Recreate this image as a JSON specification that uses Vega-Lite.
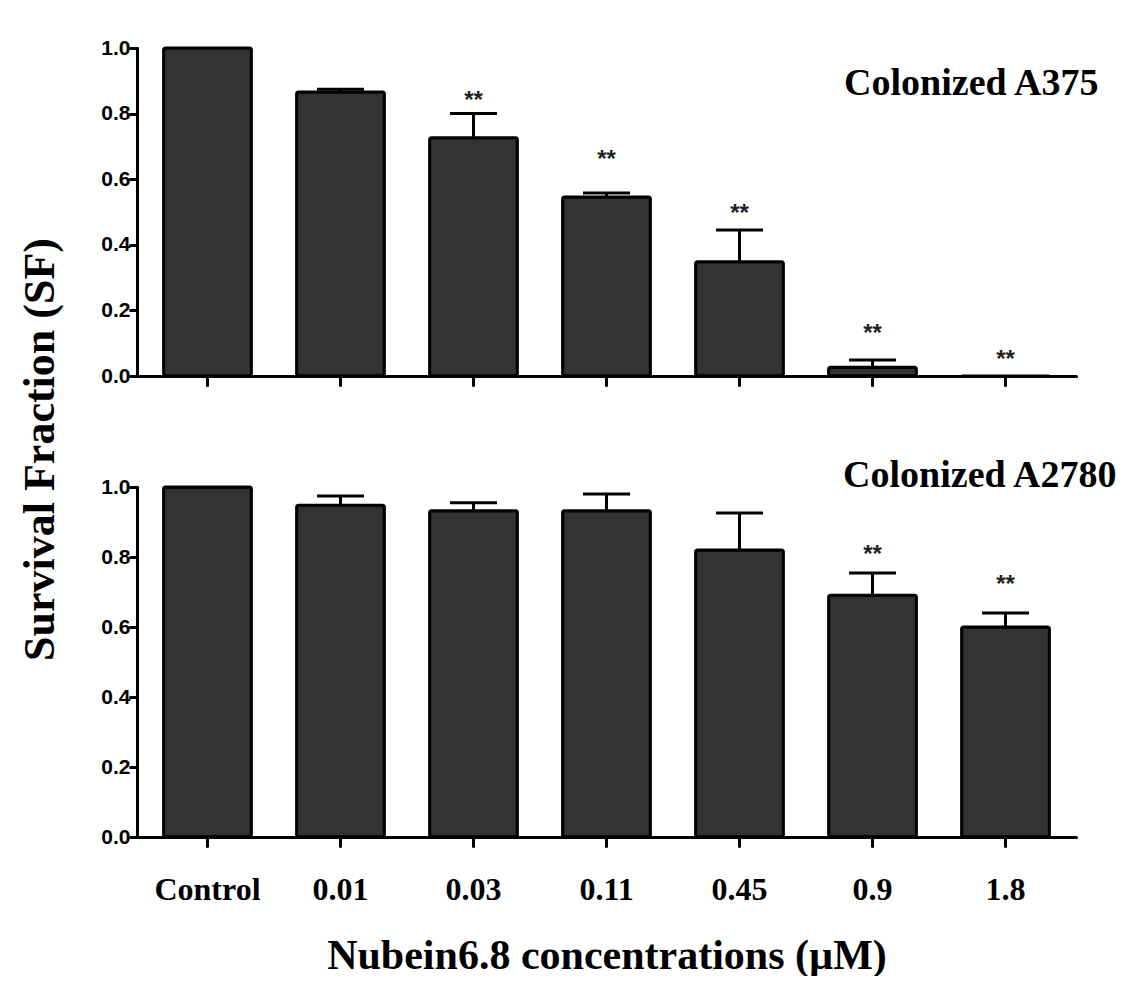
{
  "$schema": "https://vega.github.io/schema/vega-lite/v6.json",
  "background": "white",
  "padding": {"left": 17, "top": 37, "right": 0, "bottom": 0},
  "bounds": "flush",
  "spacing": 111,
  "datasets": {
    "sf": [
      {"panel": "A375", "conc": "Control", "sf": 1.0, "hi": null, "star": null},
      {"panel": "A375", "conc": "0.01", "sf": 0.866, "hi": 0.874, "star": null},
      {"panel": "A375", "conc": "0.03", "sf": 0.726, "hi": 0.80, "star": 0.86},
      {"panel": "A375", "conc": "0.11", "sf": 0.546, "hi": 0.558, "star": 0.68},
      {"panel": "A375", "conc": "0.45", "sf": 0.348, "hi": 0.445, "star": 0.515},
      {"panel": "A375", "conc": "0.9", "sf": 0.027, "hi": 0.049, "star": 0.149},
      {"panel": "A375", "conc": "1.8", "sf": 0.0, "hi": null, "star": 0.07},
      {"panel": "A2780", "conc": "Control", "sf": 1.0, "hi": null, "star": null},
      {"panel": "A2780", "conc": "0.01", "sf": 0.948, "hi": 0.974, "star": null},
      {"panel": "A2780", "conc": "0.03", "sf": 0.932, "hi": 0.955, "star": null},
      {"panel": "A2780", "conc": "0.11", "sf": 0.932, "hi": 0.98, "star": null},
      {"panel": "A2780", "conc": "0.45", "sf": 0.82, "hi": 0.926, "star": null},
      {"panel": "A2780", "conc": "0.9", "sf": 0.691, "hi": 0.754, "star": 0.826},
      {"panel": "A2780", "conc": "1.8", "sf": 0.60, "hi": 0.64, "star": 0.74}
    ]
  },
  "config": {
    "view": {"stroke": null},
    "axis": {
      "domainWidth": 3, "domainColor": "black", "domainCap": "round",
      "tickWidth": 3, "tickColor": "black", "tickCap": "round",
      "grid": false, "labelColor": "black", "titleColor": "black"
    },
    "axisY": {
      "labelFont": "Liberation Sans", "labelFontWeight": "bold", "labelFontSize": 21,
      "labelPadding": 0, "tickSize": 7
    },
    "axisX": {
      "tickSize": 9, "labelAngle": 0,
      "labelFont": "Liberation Serif", "labelFontWeight": "bold", "labelFontSize": 32,
      "labelPadding": 28
    }
  },
  "vconcat": [
    {
      "width": 939,
      "height": 328,
      "data": {"name": "sf"},
      "transform": [{"filter": "datum.panel == 'A375'"}],
      "encoding": {
        "x": {
          "field": "conc", "type": "nominal",
          "scale": {"domain": ["Control", "0.01", "0.03", "0.11", "0.45", "0.9", "1.8"], "paddingInner": 0.34, "paddingOuter": 0.2},
          "axis": {"labels": false, "title": null}
        }
      },
      "layer": [
        {
          "mark": {"type": "bar", "fill": "#333333", "stroke": "black", "strokeWidth": 3, "cornerRadius": 2},
          "encoding": {
            "y": {"field": "sf", "type": "quantitative",
              "scale": {"domain": [0, 1], "nice": false, "zero": true},
              "axis": {"values": [0, 0.2, 0.4, 0.6, 0.8, 1.0], "format": ".1f", "title": null}}
          }
        },
        {
          "transform": [{"filter": "isValid(datum.hi)"}],
          "mark": {"type": "rule", "stroke": "black", "strokeWidth": 3},
          "encoding": {"y": {"field": "sf", "type": "quantitative"}, "y2": {"field": "hi"}}
        },
        {
          "transform": [{"filter": "isValid(datum.hi)"}],
          "mark": {"type": "tick", "color": "black", "size": 47, "thickness": 3, "opacity": 1},
          "encoding": {"y": {"field": "hi", "type": "quantitative"}}
        },
        {
          "transform": [{"filter": "isValid(datum.star)"}],
          "mark": {"type": "text", "text": "**", "font": "Liberation Sans", "fontSize": 24, "fontWeight": "bold", "color": "#222222", "baseline": "alphabetic", "dy": 14},
          "encoding": {"y": {"field": "star", "type": "quantitative"}}
        },
        {
          "data": {"values": [{"label": "Colonized A375"}]},
          "mark": {"type": "text", "font": "Liberation Serif", "fontSize": 38, "fontWeight": "bold", "color": "black", "align": "right", "baseline": "alphabetic", "dx": 93},
          "encoding": {
            "x": {"datum": "1.8"},
            "y": {"datum": 0.857},
            "text": {"field": "label"}
          }
        }
      ]
    },
    {
      "width": 939,
      "height": 350,
      "data": {"name": "sf"},
      "transform": [{"filter": "datum.panel == 'A2780'"}],
      "encoding": {
        "x": {
          "field": "conc", "type": "nominal",
          "scale": {"domain": ["Control", "0.01", "0.03", "0.11", "0.45", "0.9", "1.8"], "paddingInner": 0.34, "paddingOuter": 0.2},
          "axis": {
            "title": "Nubein6.8 concentrations (µM)",
            "titleFont": "Liberation Serif", "titleFontWeight": "bold", "titleFontSize": 42,
            "titlePadding": 30
          }
        }
      },
      "layer": [
        {
          "mark": {"type": "bar", "fill": "#333333", "stroke": "black", "strokeWidth": 3, "cornerRadius": 2},
          "encoding": {
            "y": {"field": "sf", "type": "quantitative",
              "scale": {"domain": [0, 1], "nice": false, "zero": true},
              "axis": {"values": [0, 0.2, 0.4, 0.6, 0.8, 1.0], "format": ".1f",
                "title": "Survival Fraction (SF)",
                "titleFont": "Liberation Serif", "titleFontWeight": "bold", "titleFontSize": 44,
                "titleBaseline": "alphabetic", "titleAngle": -90, "titleAlign": "center",
                "titleX": -84, "titleY": -38}}
          }
        },
        {
          "transform": [{"filter": "isValid(datum.hi)"}],
          "mark": {"type": "rule", "stroke": "black", "strokeWidth": 3},
          "encoding": {"y": {"field": "sf", "type": "quantitative"}, "y2": {"field": "hi"}}
        },
        {
          "transform": [{"filter": "isValid(datum.hi)"}],
          "mark": {"type": "tick", "color": "black", "size": 47, "thickness": 3, "opacity": 1},
          "encoding": {"y": {"field": "hi", "type": "quantitative"}}
        },
        {
          "transform": [{"filter": "isValid(datum.star)"}],
          "mark": {"type": "text", "text": "**", "font": "Liberation Sans", "fontSize": 24, "fontWeight": "bold", "color": "#222222", "baseline": "alphabetic", "dy": 14},
          "encoding": {"y": {"field": "star", "type": "quantitative"}}
        },
        {
          "data": {"values": [{"label": "Colonized A2780"}]},
          "mark": {"type": "text", "font": "Liberation Serif", "fontSize": 38, "fontWeight": "bold", "color": "black", "align": "right", "baseline": "alphabetic", "dx": 111},
          "encoding": {
            "x": {"datum": "1.8"},
            "y": {"datum": 1.0},
            "text": {"field": "label"}
          }
        }
      ]
    }
  ]
}
